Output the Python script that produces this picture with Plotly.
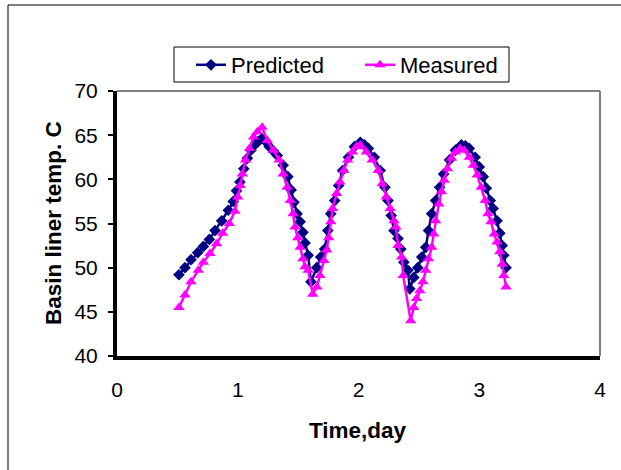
import plotly.graph_objects as go

# Basin liner temperature over three days
pred_t = [0.513, 0.563, 0.613, 0.668, 0.715, 0.765, 0.812, 0.867, 0.922, 0.963,
          0.99, 1.018, 1.05, 1.08, 1.11, 1.14, 1.17, 1.2, 1.23, 1.261,
          1.295, 1.327, 1.376, 1.415, 1.442, 1.465, 1.491, 1.517, 1.54, 1.557,
          1.583, 1.606, 1.654, 1.687, 1.72, 1.746, 1.77, 1.803, 1.835, 1.868,
          1.917, 1.966, 2.015, 2.05, 2.081, 2.131, 2.18, 2.219, 2.245, 2.271,
          2.294, 2.327, 2.35, 2.376, 2.409, 2.425, 2.458, 2.491, 2.524, 2.557,
          2.58, 2.606, 2.639, 2.672, 2.705, 2.754, 2.803, 2.852, 2.885, 2.917,
          2.966, 3.0, 3.033, 3.058, 3.091, 3.115, 3.147, 3.17, 3.19, 3.203, 3.222]
pred_temp = [49.2, 50.0, 50.9, 51.7, 52.4, 53.2, 54.2, 55.3, 56.5, 57.5,
             58.7, 59.7, 61.2, 62.4, 63.3, 63.9, 64.3, 64.6, 64.3, 63.7,
             63.2, 62.7, 61.6, 60.3, 58.8, 57.4, 56.1, 55.2, 54.0, 52.8,
             51.4, 48.4, 50.0, 51.2, 52.1, 54.2, 56.1, 57.6, 59.3, 61.0,
             62.5, 63.7, 64.2, 63.9, 63.5, 62.5, 61.0, 59.1, 57.6, 55.9,
             54.2, 53.3, 52.1, 50.6, 49.7, 47.6, 48.9, 50.0, 51.2, 52.3,
             54.2, 56.1, 57.6, 59.1, 60.6, 62.2, 63.3, 63.9, 63.8, 63.5,
             62.5, 61.4, 60.3, 59.0, 57.6, 56.7, 55.3, 53.9, 52.5, 51.4, 50.0]

meas_t = [0.513, 0.563, 0.613, 0.673, 0.715, 0.77, 0.825, 0.875, 0.93, 0.977,
          1.0, 1.021, 1.038, 1.064, 1.097, 1.13, 1.163, 1.202, 1.245, 1.294,
          1.343, 1.376, 1.409, 1.435, 1.458, 1.474, 1.497, 1.517, 1.54, 1.557,
          1.583, 1.621, 1.655, 1.681, 1.714, 1.737, 1.753, 1.77, 1.786, 1.819,
          1.846, 1.878, 1.911, 1.95, 1.983, 2.015, 2.064, 2.114, 2.163, 2.196,
          2.229, 2.262, 2.294, 2.31, 2.327, 2.357, 2.37, 2.432, 2.458, 2.481,
          2.508, 2.534, 2.557, 2.58, 2.606, 2.623, 2.639, 2.665, 2.687, 2.71,
          2.737, 2.77, 2.803, 2.842, 2.875, 2.917, 2.95, 2.983, 3.016, 3.049,
          3.072, 3.097, 3.124, 3.147, 3.17, 3.19, 3.203, 3.222]
meas_temp = [45.5, 46.9, 48.4, 49.7, 50.6, 51.6, 52.7, 53.9, 55.0, 56.4,
             58.0, 59.3, 60.6, 62.2, 63.5, 64.8, 65.4, 65.9, 64.4, 63.3,
             62.2, 60.6, 59.1, 57.6, 56.1, 54.6, 53.4, 52.3, 51.0, 50.1,
             49.7, 47.0, 47.8, 49.1, 50.8, 52.0, 53.4, 55.2, 56.7, 58.4,
             59.7, 61.0, 62.2, 63.1, 63.7, 63.9, 63.1, 62.2, 61.0, 59.5,
             58.0, 56.7, 55.3, 54.6, 52.5, 51.2, 49.1, 44.0, 45.5, 46.5,
             47.4, 48.4, 49.7, 51.0, 52.3, 53.8, 55.3, 57.2, 58.6, 59.9,
             61.2, 62.4, 63.1, 63.5, 63.3, 62.5, 61.6, 60.5, 59.1, 57.6,
             56.1, 55.2, 53.8, 52.9, 51.8, 50.4, 49.1, 47.8]

x_ticks = [0, 1, 2, 3, 4]
y_ticks = [40, 45, 50, 55, 60, 65, 70]
x_title = "Time,day"
y_title = "Basin liner temp. C"

FONT = "Arial, Liberation Sans, sans-serif"

# plot area in pixels: left 117, right 600, top 91, bottom 356
def px_x(p):
    return (p - 117) / 483

def px_y(p):
    return (356 - p) / 265

fig = go.Figure()
fig.add_trace(go.Scatter(
    x=pred_t, y=pred_temp, name="Predicted", mode="lines+markers",
    line=dict(color="#000080", width=2.5),
    marker=dict(symbol="diamond", size=9, color="#000080"),
))
fig.add_trace(go.Scatter(
    x=meas_t, y=meas_temp, name="Measured", mode="lines+markers",
    line=dict(color="#FF00FF", width=2.5),
    marker=dict(symbol="triangle-up", size=10, color="#FF00FF"),
))

# grey plot-area border on top and right, legend box, outer chart frame
shapes = [
    dict(type="line", xref="paper", yref="paper", x0=0, x1=1, y0=1, y1=1,
         line=dict(color="#808080", width=2), layer="below"),
    dict(type="line", xref="paper", yref="paper", x0=1, x1=1, y0=0, y1=1,
         line=dict(color="#808080", width=2), layer="below"),
    dict(type="rect", xref="paper", yref="paper",
         x0=px_x(174), x1=px_x(509), y0=px_y(82), y1=px_y(47),
         line=dict(color="black", width=1), layer="below"),
    dict(type="rect", xref="paper", yref="paper",
         x0=px_x(8), x1=px_x(640), y0=px_y(490), y1=px_y(5),
         line=dict(color="black", width=1), layer="below"),
]

annotations = [
    dict(text=f"<b>{x_title}</b>", xref="paper", yref="paper",
         x=px_x(358), y=px_y(430), xanchor="center", yanchor="middle",
         showarrow=False, font=dict(family=FONT, size=22.5, color="black")),
    dict(text=f"<b>{y_title}</b>", xref="paper", yref="paper",
         x=px_x(53), y=px_y(223), xanchor="center", yanchor="middle",
         textangle=-90, showarrow=False,
         font=dict(family=FONT, size=22.5, color="black")),
]

fig.update_layout(
    width=621, height=470,
    margin=dict(l=117, r=21, t=91, b=114),
    paper_bgcolor="white", plot_bgcolor="white",
    font=dict(family=FONT, size=21, color="black"),
    showlegend=True,
    legend=dict(
        orientation="h", x=px_x(191), xanchor="left",
        y=px_y(65), yanchor="middle",
        borderwidth=0, bgcolor="rgba(0,0,0,0)",
        font=dict(family=FONT, size=22, color="black"),
        entrywidth=124, entrywidthmode="pixels",
    ),
    shapes=shapes,
    annotations=annotations,
    xaxis=dict(
        range=[0, 4], tickvals=x_ticks, ticks="", showgrid=False, zeroline=False,
        showline=True, linecolor="black", linewidth=4,
        tickfont=dict(size=21), ticklabelstandoff=12,
    ),
    yaxis=dict(
        range=[40, 70], tickvals=y_ticks, ticks="outside", ticklen=5,
        tickwidth=2, tickcolor="black", showgrid=False, zeroline=False,
        showline=True, linecolor="black", linewidth=4,
        tickfont=dict(size=21), ticklabelstandoff=6,
    ),
)

fig.write_html("out.html")
